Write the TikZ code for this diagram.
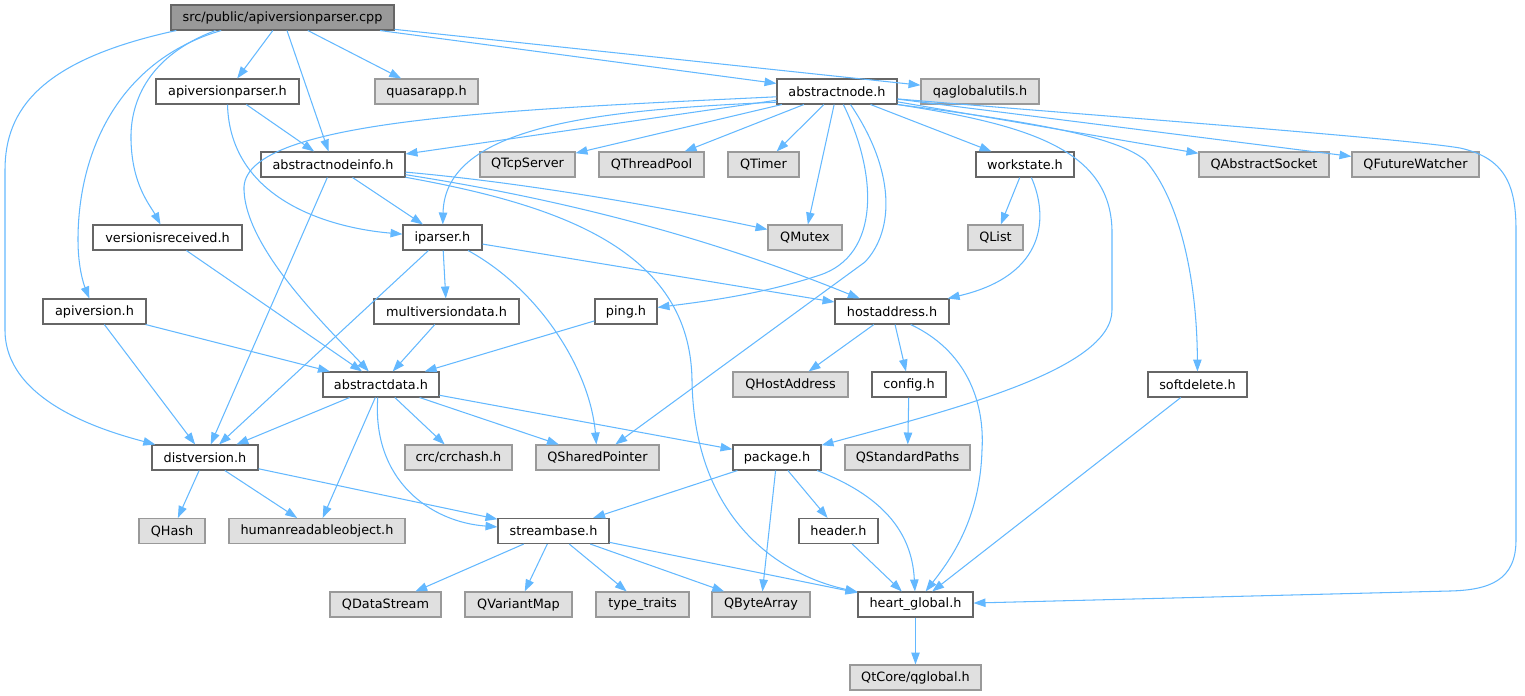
\documentclass[tikz,border=0pt]{standalone}
\usepackage{fontspec}
\setmainfont{DejaVu Sans}
\usetikzlibrary{arrows.meta}
\definecolor{deplink}{HTML}{63B8FF}
\definecolor{boxline}{HTML}{666666}
\definecolor{extline}{HTML}{999999}
\definecolor{extfill}{HTML}{E0E0E0}
\definecolor{rootfill}{HTML}{999999}

\begin{document}
\begin{tikzpicture}[x=0.02cm,y=-0.02cm,>={Triangle[length=6.8pt,width=4.8pt]},
      every node/.style={font=\fontsize{7.3}{8}\selectfont,minimum height=0.5cm,inner sep=0pt,line width=0.6pt},
      hdr/.style={draw=boxline,fill=white,minimum width=#1*0.02cm},
      ext/.style={draw=extline,fill=extfill,minimum width=#1*0.02cm},
      rootbox/.style={draw=boxline,fill=rootfill,minimum width=#1*0.02cm},
      dep/.style={->,draw=deplink,line width=0.6pt}]
      \useasboundingbox (0,0) rectangle (1525,696);
      \node[rootbox=223] (cpp) at (282.5,17.5) {src/public/apiversionparser.cpp};
      \node[hdr=143] (apiparserh) at (227.5,91.5) {apiversionparser.h};
      \node[ext=103] (quasarapp) at (426.5,91.5) {quasarapp.h};
      \node[hdr=120] (abstractnode) at (837,91.5) {abstractnode.h};
      \node[ext=118] (qaglobalutils) at (980,91.5) {qaglobalutils.h};
      \node[hdr=144] (nodeinfo) at (333,164.5) {abstractnodeinfo.h};
      \node[ext=95] (qtcpserver) at (527.5,164.5) {QTcpServer};
      \node[ext=105] (qthreadpool) at (651.5,164.5) {QThreadPool};
      \node[ext=71] (qtimer) at (763.5,164.5) {QTimer};
      \node[hdr=98] (workstate) at (1025,164.5) {workstate.h};
      \node[ext=130] (qabstractsocket) at (1264,164.5) {QAbstractSocket};
      \node[ext=127] (qfuturewatcher) at (1415.5,164.5) {QFutureWatcher};
      \node[hdr=149] (versionrecv) at (167.5,237.5) {versionisreceived.h};
      \node[hdr=79] (iparser) at (442.5,237.5) {iparser.h};
      \node[ext=74] (qmutex) at (805,237.5) {QMutex};
      \node[ext=55] (qlist) at (995.5,237.5) {QList};
      \node[hdr=103] (apiversion) at (94.5,311.5) {apiversion.h};
      \node[hdr=145] (multiversion) at (446.5,311.5) {multiversiondata.h};
      \node[hdr=62] (ping) at (626,311.5) {ping.h};
      \node[hdr=114] (hostaddress) at (892,311.5) {hostaddress.h};
      \node[hdr=116] (abstractdata) at (381,384.5) {abstractdata.h};
      \node[ext=115] (qhostaddress) at (790.5,384.5) {QHostAddress};
      \node[hdr=74] (config) at (909,384.5) {config.h};
      \node[hdr=99] (softdelete) at (1197.5,384.5) {softdelete.h};
      \node[hdr=106] (distversion) at (205,457.5) {distversion.h};
      \node[ext=107] (crchash) at (458.5,457.5) {crc/crchash.h};
      \node[ext=123] (qsharedptr) at (597.5,457.5) {QSharedPointer};
      \node[hdr=88] (package) at (777,457.5) {package.h};
      \node[ext=125] (qstdpaths) at (907.5,457.5) {QStandardPaths};
      \node[ext=66] (qhash) at (172,531) {QHash};
      \node[ext=176] (humanreadable) at (317,531) {humanreadableobject.h};
      \node[hdr=111] (streambase) at (553.5,531) {streambase.h};
      \node[hdr=79] (header) at (838.5,531) {header.h};
      \node[ext=111] (qdatastream) at (385.5,604.5) {QDataStream};
      \node[ext=107] (qvariantmap) at (518.5,604.5) {QVariantMap};
      \node[ext=93] (typetraits) at (642.5,604.5) {type\_traits};
      \node[ext=98] (qbytearray) at (761,604.5) {QByteArray};
      \node[hdr=115] (heartglobal) at (915.5,604.5) {heart\_global.h};
      \node[ext=131] (qglobal) at (915.5,677.5) {QtCore/qglobal.h};

      \foreach \a/\b in {cpp/apiparserh,cpp/nodeinfo,cpp/quasarapp,cpp/abstractnode,cpp/qaglobalutils,
          apiparserh/nodeinfo,nodeinfo/iparser,nodeinfo/distversion,versionrecv/abstractdata,
          iparser/multiversion,iparser/distversion,iparser/hostaddress,apiversion/abstractdata,
          apiversion/distversion,multiversion/abstractdata,ping/abstractdata,abstractdata/distversion,
          abstractdata/humanreadable,abstractdata/crchash,abstractdata/qsharedptr,abstractdata/package,
          abstractnode/nodeinfo,abstractnode/qtcpserver,abstractnode/qthreadpool,abstractnode/qtimer,
          abstractnode/qmutex,abstractnode/workstate,abstractnode/qabstractsocket,abstractnode/qfuturewatcher,
          workstate/qlist,hostaddress/qhostaddress,hostaddress/config,config/qstdpaths,softdelete/heartglobal,
          distversion/qhash,distversion/humanreadable,distversion/streambase,package/streambase,
          package/qbytearray,package/header,header/heartglobal,streambase/qdatastream,streambase/qvariantmap,
          streambase/typetraits,streambase/qbytearray,streambase/heartglobal,heartglobal/qglobal}
        \draw[dep] (\a) -- (\b);

      \draw[dep] (cpp.187) .. controls (40,60) and (5,110) .. (5,170) -- (5,330)
        .. controls (5,400) and (100,430) .. (distversion);
      \draw[dep] (cpp.192) .. controls (120,60) and (78,150) .. (78,240)
        .. controls (78,268) and (84,285) .. (apiversion);
      \draw[dep] (cpp.191) .. controls (150,55) and (130,100) .. (131,140)
        .. controls (132,185) and (150,205) .. (versionrecv);
      \draw[dep] (apiparserh.south) .. controls (230,200) and (330,228) .. (iparser);
      \draw[dep] (nodeinfo.-6) .. controls (550,185) and (700,215) .. (qmutex);
      \draw[dep] (nodeinfo.-8) .. controls (600,205) and (740,250) .. (hostaddress);
      \draw[dep] (nodeinfo.-10) .. controls (560,205) and (690,250) .. (692,380)
        .. controls (694,520) and (780,575) .. (heartglobal);
      \draw[dep] (iparser.-27) .. controls (540,290) and (590,370) .. (qsharedptr);
      \draw[dep] (abstractdata.-104) .. controls (372,480) and (430,522) .. (streambase);
      \draw[dep] (abstractnode.185) .. controls (500,110) and (240,120) .. (244,190)
        .. controls (246,250) and (330,330) .. (abstractdata);
      \draw[dep] (abstractnode.190) .. controls (600,110) and (445,125) .. (iparser);
      \draw[dep] (abstractnode.-64) .. controls (878,175) and (880,255) .. (820,275)
        .. controls (760,295) and (700,302) .. (ping);
      \draw[dep] (abstractnode.-44) .. controls (895,170) and (895,230) .. (865,262) -- (qsharedptr);
      \draw[dep] (abstractnode.south east) .. controls (1030,125) and (1110,150) .. (1112,230) -- (1112,310)
        .. controls (1112,370) and (950,410) .. (package);
      \draw[dep] (abstractnode.south east) .. controls (1060,125) and (1120,140) .. (1145,160)
        .. controls (1180,200) and (1197,280) .. (softdelete);
      \draw[dep] (abstractnode.-7) .. controls (1100,116) and (1400,138) .. (1460,148)
        .. controls (1505,158) and (1516,185) .. (1516,230) -- (1516,540)
        .. controls (1516,580) and (1490,590) .. (1450,591) -- (heartglobal);
      \draw[dep] (workstate.-64) .. controls (1048,215) and (1048,275) .. (hostaddress);
      \draw[dep] (hostaddress.-35) .. controls (965,350) and (985,400) .. (982,450)
        .. controls (980,520) and (950,560) .. (heartglobal);
      \draw[dep] (package.-18) .. controls (880,495) and (912,530) .. (heartglobal);
    \end{tikzpicture}
\end{document}
